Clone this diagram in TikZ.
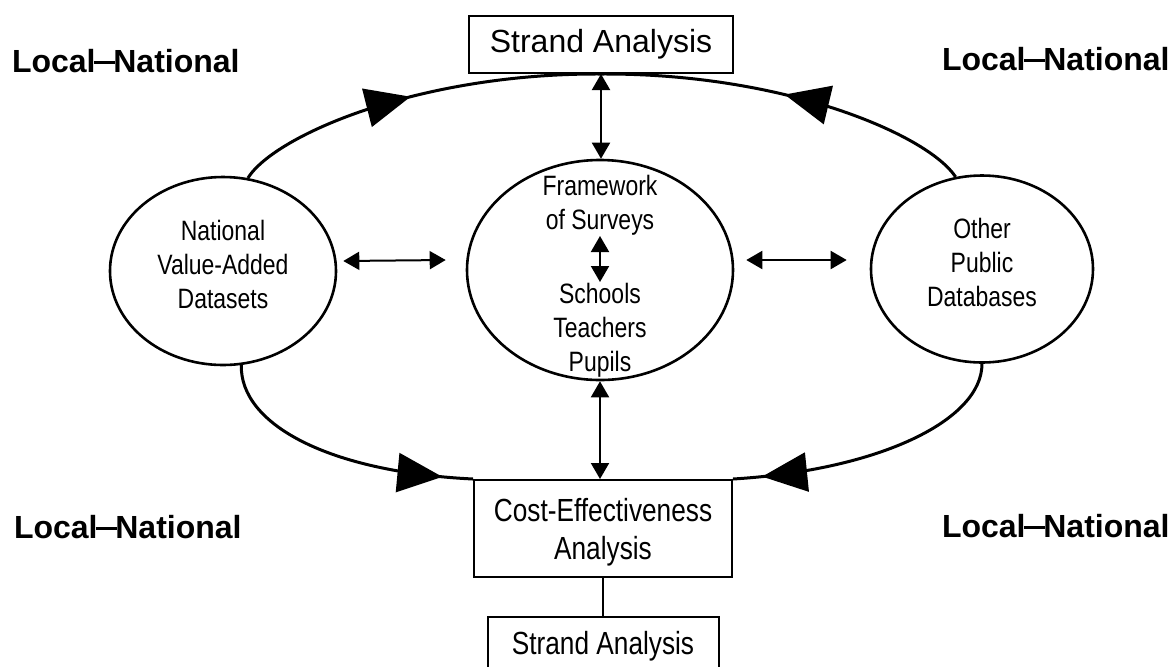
\documentclass[tikz,border=0pt]{standalone}
\usepackage{fontspec}
\setmainfont{Liberation Sans}
\newfontfamily\narrowfont{Liberation Sans}[FakeStretch=0.82]
\usetikzlibrary{arrows.meta, positioning, shapes.geometric, decorations.markings}

\newcommand{\joindash}{\kern-0.8pt\rule[4pt]{10.5pt}{1.5pt}\kern-0.8pt}

\tikzset{
    headat/.style = {postaction = {decorate},
        decoration = {markings,
            mark = at position #1 with {\arrow{Triangle[length=22.5pt, width=19.5pt]}}}}
}

\begin{document}
\begin{tikzpicture}[
            x = 0.5pt, y = -0.5pt, % one unit = one pixel of the sketch
            > = {Triangle[length=8pt, width=9pt]}, % arrow head style
            line width = 1pt % line style
        ]

        \tikzstyle{box}=[
            draw,
            line width = 1pt,
            align = center,
            font = \narrowfont\fontsize{16}{19}\selectfont
        ]
        \tikzstyle{blob}=[
            ellipse,
            draw,
            line width = 1.3pt,
            align = center,
            font = \narrowfont\fontsize{14}{17}\selectfont
        ]
        \tikzstyle{words}=[inner sep = 0pt, align = center,
            font = \narrowfont\fontsize{14}{17}\selectfont]
        \tikzstyle{tag}=[inner sep = 0pt, anchor = base west,
            font = \bfseries\fontsize{16}{19}\selectfont]
        \tikzstyle{bigarc}=[line width = 1.5pt]
        \tikzstyle{twoway}=[<->, line width = 1pt]

        \useasboundingbox (0,0) rectangle (1174,666);
        \clip (0,0) rectangle (1174,666);

        % boxes
        \node[box, font = \fontsize{16}{19}\selectfont, minimum width = 132pt, minimum height = 28.5pt] (sa) at (601,44.5) {Strand Analysis};
        \node[box, minimum width = 129pt, minimum height = 48.5pt, text depth = 0pt] (ce) at (603,528.5) {Cost-Effectiveness\\Analysis};
        \node[box, minimum width = 115.5pt, minimum height = 29pt] (sb) [below = 19pt of ce] {Strand Analysis};

        % ellipses
        \node[blob, minimum width = 113pt, minimum height = 94pt, text depth = 7pt] (nat) at (223,271) {National\\Value-Added\\Datasets};
        \node[blob, minimum width = 133pt, minimum height = 110pt] (fw) at (600,270) {};
        \node[blob, minimum width = 111pt, minimum height = 93.5pt, text depth = 7pt] (oth) at (982,269) {Other\\Public\\Databases};
        \node[words, anchor = south] (fwtxt) at (600,236) {Framework\\of Surveys};
        \node[words] (sctxt) [below = 23pt of fwtxt] {Schools\\Teachers\\Pupils};

        % corner labels
        \node[tag] (tl) at (11,72) {Local\joindash National};
        \node[tag] (tr) at (941,70) {Local\joindash National};
        \node[tag] (bl) at (13,538) {Local\joindash National};
        \node[tag] (br) at (941,537) {Local\joindash National};

        % two-way links
        \draw[twoway] (sa.south) -- (sa.south |- fw.north);
        \draw[twoway] (fw.south) -- (fw.south |- ce.north);
        \draw[twoway] (fwtxt.south) -- (sctxt.north);
        \draw[twoway] ([xshift=3pt, yshift=5pt]nat.east) -- ([xshift=-10pt, yshift=5pt]fw.west);
        \draw[twoway] ([xshift=6pt, yshift=5pt]fw.east) -- ([xshift=-11.5pt, yshift=4.5pt]oth.west);
        \draw[line width = 0.8pt] (ce.south) -- (sb.north);

        % big loop arcs
        \draw[bigarc, headat = 0.49] (nat.75) .. controls (275,135) and (420,73) .. (sa.south);
        \draw[bigarc, headat = 0.51] (oth.106) .. controls (928,135) and (785,73) .. (sa.south);
        \draw[bigarc, headat = 0.89] (nat.281) .. controls (240,425) and (330,472) .. (ce.north west);
        \draw[bigarc, headat = 0.9] (oth.south) .. controls (982,420) and (880,470) .. (ce.north east);

  \end{tikzpicture}
\end{document}
